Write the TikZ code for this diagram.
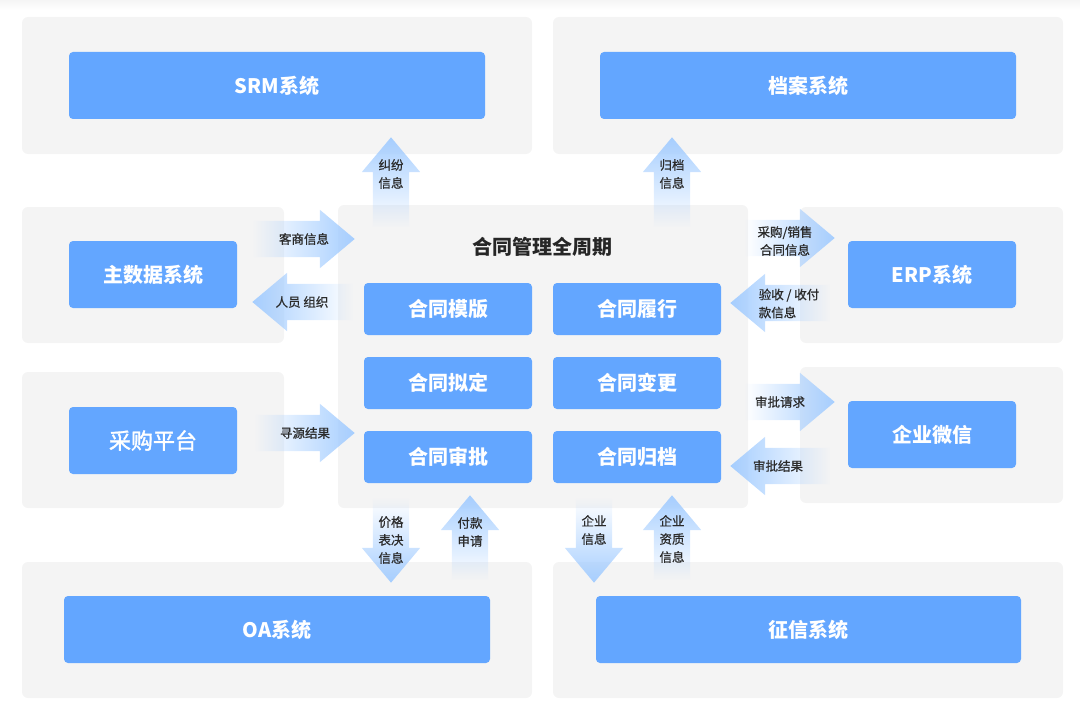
\documentclass[tikz,border=0pt]{standalone}
\usepackage{fontspec}
\setmainfont{Noto Sans CJK SC}
\newfontfamily\semibold[FakeBold=1.6]{Noto Sans CJK SC}
\newfontfamily\labelfont[FakeBold=0.8]{Noto Sans CJK SC}
\usetikzlibrary{shapes.arrows,fadings}
\definecolor{panelgray}{HTML}{F4F4F4}
\definecolor{boxblue}{HTML}{63A6FF}
\definecolor{flowblue}{HTML}{A6CEFF}
\definecolor{labelgray}{HTML}{2B2B2B}
\begin{document}
\begin{tikzpicture}[x=1pt,y=-1pt,
    panel/.style={fill=panelgray, rounded corners=6pt},
    sysbox/.style={fill=boxblue, rounded corners=4pt, text=white, inner sep=0pt,
      minimum height=67pt, font=\bfseries\fontsize{20}{20}\selectfont},
    stagebox/.style={fill=boxblue, rounded corners=4pt, text=white, inner sep=0pt,
      minimum width=168pt, minimum height=52pt, font=\bfseries\fontsize{20}{20}\selectfont},
    flow/.style={single arrow, fill=flowblue, inner sep=18pt, minimum width=58pt,
      single arrow head extend=11pt, single arrow tip angle=80, anchor=tip},
    flowtext/.style={text=labelgray, align=center, inner sep=0pt,
      font=\labelfont\fontsize{12.5}{18}\selectfont}]
  \useasboundingbox (0,0) rectangle (1080,717);
  % faint band at the top
  \shade[top color=black!4, bottom color=white] (0,0) rectangle (1080,10);

  % Gray panels
  \fill[panel] (22,17) rectangle (532,154);
  \fill[panel] (553,17) rectangle (1063,154);
  \fill[panel] (22,207) rectangle (284,343);
  \fill[panel] (22,372) rectangle (284,508);
  \fill[panel] (338,205) rectangle (748,508);
  \fill[panel] (800,207) rectangle (1063,343);
  \fill[panel] (800,367) rectangle (1063,503);
  \fill[panel] (22,562) rectangle (532,698);
  \fill[panel] (553,562) rectangle (1063,698);

  % Flows on the left
  \node[flow, minimum height=102pt, path fading=west] (f-keshang) at (355,239) {};
  \node[flowtext] (t-keshang) at (304,239) {客商信息};
  \node[flow, shape border rotate=180, minimum height=101pt, path fading=east] (f-renyuan) at (252,302) {};
  \node[flowtext] (t-renyuan) at (302,302) {人员 组织};
  \node[flow, minimum height=100pt, path fading=west] (f-xunyuan) at (355,433) {};
  \node[flowtext] (t-xunyuan) at (305,433) {寻源结果};

  % Flows on the right
  \node[flow, minimum height=90pt, path fading=west] (f-caigou) at (835,238) {};
  \node[flowtext] (t-caigou) at (785,241) {采购/销售\\合同信息};
  \node[flow, shape border rotate=180, minimum height=100pt, path fading=east] (f-yanshou) at (730,303) {};
  \node[flowtext, align=left] (t-yanshou) at (789,303.5) {验收 / 收付\\款信息};
  \node[flow, minimum height=90pt, path fading=west] (f-shenqing) at (835,402) {};
  \node[flowtext] (t-shenqing) at (780,402) {审批请求};
  \node[flow, shape border rotate=180, minimum height=100pt, path fading=east] (f-shenjie) at (730,466) {};
  \node[flowtext] (t-shenjie) at (778,466) {审批结果};

  % Flows up to the top row
  \node[flow, shape border rotate=90, minimum height=90pt, path fading=south] (f-jiufen) at (391,137) {};
  \node[flowtext] (t-jiufen) at (391,174) {纠纷\\信息};
  \node[flow, shape border rotate=90, minimum height=90pt, path fading=south] (f-guidang) at (672,137) {};
  \node[flowtext] (t-guidang) at (672,174) {归档\\信息};

  % Flows to and from the bottom row
  \node[flow, shape border rotate=270, minimum height=85pt, path fading=north] (f-jiage) at (391,583) {};
  \node[flowtext] (t-jiage) at (391,540) {价格\\表决\\信息};
  \node[flow, shape border rotate=90, minimum height=85pt, path fading=south] (f-fukuan) at (470,495) {};
  \node[flowtext] (t-fukuan) at (470,532) {付款\\申请};
  \node[flow, shape border rotate=270, minimum height=85pt, path fading=north] (f-qiye) at (594,583) {};
  \node[flowtext] (t-qiye) at (594,530) {企业\\信息};
  \node[flow, shape border rotate=90, minimum height=85pt, path fading=south] (f-zizhi) at (672,495) {};
  \node[flowtext] (t-zizhi) at (672,539) {企业\\资质\\信息};

  % Outer systems
  \node[sysbox, minimum width=416pt] (srm) at (277,85.5) {SRM系统};
  \node[sysbox, minimum width=416pt] (dangan) at (808,85.5) {档案系统};
  \node[sysbox, minimum width=168pt] (zhushuju) at (153,274.5) {主数据系统};
  \node[sysbox, minimum width=168pt, font=\semibold\fontsize{22}{22}\selectfont] (caigoupt) at (153,440.5) {采购平台};
  \node[sysbox, minimum width=168pt] (erp) at (932,274.5) {ERP系统};
  \node[sysbox, minimum width=168pt] (weixin) at (932,434.5) {企业微信};
  \node[sysbox, minimum width=426pt] (oa) at (277,629.5) {OA系统};
  \node[sysbox, minimum width=425pt] (zhengxin) at (808.5,629.5) {征信系统};

  % Contract life cycle
  \node[text=black!85, font=\bfseries\fontsize{20}{20}\selectfont] (title) at (542,247) {合同管理全周期};
  \node[stagebox] (muban) at (448,309) {合同模版};
  \node[stagebox] (lvxing) at (637,309) {合同履行};
  \node[stagebox] (niding) at (448,383) {合同拟定};
  \node[stagebox] (biangeng) at (637,383) {合同变更};
  \node[stagebox] (shenpi) at (448,457) {合同审批};
  \node[stagebox] (guidang) at (637,457) {合同归档};
\end{tikzpicture}
\end{document}
